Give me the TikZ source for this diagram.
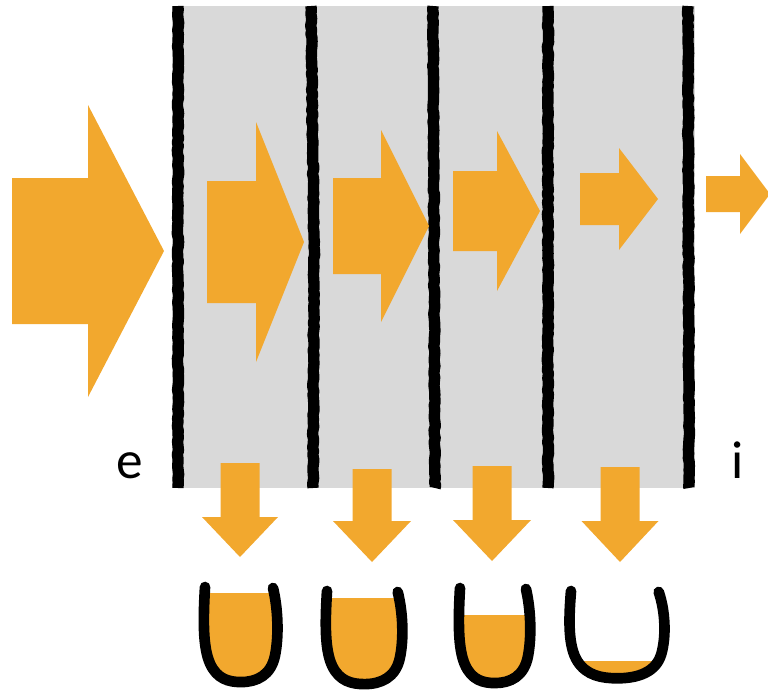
\documentclass[tikz,border=0pt]{standalone}
\usepackage{fontspec}
\setmainfont{Carlito}
\usetikzlibrary{decorations.pathmorphing}

\definecolor{flowc}{RGB}{242,168,46}
\definecolor{cellc}{RGB}{217,217,217}

% #1 shaft left, #2 head base, #3 tip, #4 centre y, #5 shaft half, #6 head half
\newcommand{\rightarr}[6]{%
  \fill[flow] (#1,#4-#5) -- (#2,#4-#5) -- (#2,#4-#6) -- (#3,#4)
    -- (#2,#4+#6) -- (#2,#4+#5) -- (#1,#4+#5) -- cycle;}

% #1 centre x, #2 shaft half, #3 shaft top, #4 head base, #5 head half, #6 tip
\newcommand{\downarr}[6]{%
  \fill[flow] (#1-#2,#3) -- (#1+#2,#3) -- (#1+#2,#4) -- (#1+#5,#4)
    -- (#1,#6) -- (#1-#5,#4) -- (#1-#2,#4) -- cycle;}

% #1 x, #2 y (left rim), #3 xscale, #4 yscale, #5 fill level
\newcommand{\bucket}[5]{%
  \begin{scope}
    \clip (#1-20,#5) rectangle (#1+130,720);
    \fill[flow, shift={(#1,#2)}, xscale=#3, yscale=#4]
      (0,0) .. controls (-2,35) and (-2,62) .. (5,78)
      .. controls (12,94) and (24,97) .. (36,97)
      .. controls (52,97) and (66,90) .. (70,70)
      .. controls (74,50) and (73,22) .. (68,1) -- cycle;
  \end{scope}
  \draw[rim, shift={(#1,#2)}, xscale=#3, yscale=#4]
      (0,0) .. controls (-2,35) and (-2,62) .. (5,78)
      .. controls (12,94) and (24,97) .. (36,97)
      .. controls (52,97) and (66,90) .. (70,70)
      .. controls (74,50) and (73,22) .. (68,1);}

\begin{document}
\begin{tikzpicture}[x=0.75pt, y=-0.75pt]
\tikzset{
  flow/.style={fill=flowc},
  wall/.style={line width=8.5pt, line join=round, decorate,
    decoration={random steps, segment length=3pt, amplitude=0.5pt}},
  rim/.style={line width=8pt, line cap=round, line join=round},
  lbl/.style={font=\fontsize{40}{48}\selectfont, anchor=base, inner sep=0pt},
}
\pgfmathsetseed{7}
\clip (0,0) rectangle (768,697);

% cells
\fill[cellc] (172,6) rectangle (695,488);
\draw[wall] (178,6) -- (178,488);
\draw[wall] (311,6) -- (314,247) -- (313,488);
\draw[wall] (433,6) -- (435,488);
\draw[wall] (548,6) -- (548,488);
\draw[wall] (688,6) -- (689,488);

% flow through the cells
\rightarr{12}{88}{164}{251}{73}{146}
\rightarr{207}{256}{304}{242}{61}{120}
\rightarr{333}{381}{429}{226}{48}{96}
\rightarr{453}{497}{540}{211}{40}{80}
\rightarr{580}{619}{658}{199}{26}{51}
\rightarr{706}{740}{770}{194}{18}{40}

% losses
\downarr{240}{19.5}{463}{517}{38}{557}
\downarr{372}{19.5}{469}{521}{39}{562}
\downarr{492}{19.5}{466}{520}{39}{561}
\downarr{620}{19.5}{467}{521}{38.5}{562}

\bucket{205}{587}{1}{0.98}{593}
\bucket{327}{591}{1.04}{0.96}{598}
\bucket{460}{588}{0.97}{0.98}{615}
\bucket{571}{591}{1.29}{0.9}{661}

\node[lbl] (inlet) at (130,478) {e};
\node[lbl] (outlet) at (738,478) {i};
\end{tikzpicture}
\end{document}
